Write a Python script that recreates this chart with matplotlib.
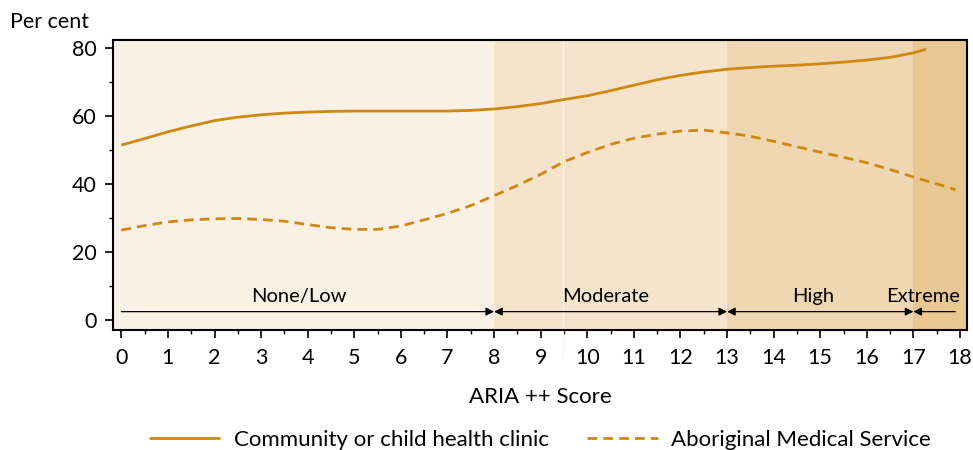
import numpy as np
import matplotlib
matplotlib.use('Agg')
import matplotlib.pyplot as plt
from matplotlib.ticker import MultipleLocator

plt.rcParams['font.family'] = ['Lato', 'DejaVu Sans']

# ARIA++ score and per cent of respondents using each service
clinic_x = [0, 0.5, 1, 1.5, 2, 2.5, 3, 3.5, 4, 4.5, 5, 5.5, 6, 6.5, 7, 7.5, 8, 8.5,
            9, 9.5, 10, 10.5, 11, 11.5, 12, 12.5, 13, 13.5, 14, 14.5, 15, 15.5, 16,
            16.5, 17, 17.27]
clinic_y = [51.4, 53.3, 55.3, 57.0, 58.6, 59.6, 60.3, 60.8, 61.1, 61.3, 61.4, 61.4,
            61.4, 61.4, 61.4, 61.6, 62.0, 62.7, 63.6, 64.8, 65.9, 67.4, 69.0, 70.6,
            71.9, 72.9, 73.7, 74.2, 74.6, 74.9, 75.3, 75.8, 76.4, 77.2, 78.5, 79.6]

ams_x = [0, 0.5, 1, 1.5, 2, 2.5, 3, 3.5, 4, 4.5, 5, 5.5, 6, 6.5, 7, 7.5, 8, 8.5,
         9, 9.5, 10, 10.5, 11, 11.5, 12, 12.5, 13, 13.5, 14, 14.5, 15, 15.5, 16,
         16.5, 17, 17.5, 17.9]
ams_y = [26.4, 27.7, 28.8, 29.4, 29.7, 29.8, 29.5, 29.0, 28.0, 27.1, 26.6, 26.6,
         27.6, 29.4, 31.3, 33.6, 36.5, 39.5, 42.8, 46.5, 49.2, 51.6, 53.4, 54.6,
         55.5, 55.8, 55.0, 54.0, 52.5, 50.9, 49.3, 47.8, 46.2, 44.2, 42.0, 40.0, 38.3]

# remoteness bands: name, start, end, label position
band_names = ['None/Low', 'Moderate', 'High', 'Extreme']
band_start = [0, 8, 13, 17]
band_end = [8, 13, 17, 17.9]
band_label_x = [3.8, 10.4, 14.85, 17.2]
band_colors = ['#FAF1E6', '#F5E4CB', '#EFD7B3', '#E8C793']

line_color = '#CF870E'

fig = plt.figure(figsize=(9.73, 4.5), dpi=100)
ax = fig.add_axes([0.1166, 0.2667, 0.9938 - 0.1166, 0.9111 - 0.2667])

xmin, xmax = -0.17, 18.15
ymin, ymax = -3.0, 82.3
ax.set_xlim(xmin, xmax)
ax.set_ylim(ymin, ymax)

# shaded background for each band
edges = [xmin, 8, 13, 17, xmax]
for i in range(4):
    ax.axvspan(edges[i], edges[i + 1], color=band_colors[i], lw=0, zorder=0)

ax.plot(clinic_x, clinic_y, color=line_color, lw=2.0, solid_capstyle='butt',
        label='Community or child health clinic', zorder=3)
ax.plot(ams_x, ams_y, color=line_color, lw=2.0, dashes=(3.5, 2.2),
        label='Aboriginal Medical Service', zorder=3)

# thin pale rule at 9.5
ax.plot([9.48, 9.48], [-11, ymax], color='#FBF3E8', lw=1.0, clip_on=False, zorder=2)

# arrows marking the band extents
arrow_y = 2.4
for i in range(4):
    s, e = band_start[i], band_end[i]
    if i == 0:
        style = '-|>'
    elif i == 3:
        style = '<|-'
    else:
        style = '<|-|>'
    ax.annotate('', xy=(e, arrow_y), xytext=(s, arrow_y),
                arrowprops=dict(arrowstyle=style, color='black', lw=0.9,
                                shrinkA=0, shrinkB=0,
                                mutation_scale=12), zorder=4)
    ax.text(band_label_x[i], 6.8, band_names[i], ha='center', va='center',
            fontsize=14.5, zorder=4)

ax.xaxis.set_major_locator(MultipleLocator(1))
ax.xaxis.set_minor_locator(MultipleLocator(0.5))
ax.yaxis.set_major_locator(MultipleLocator(20))
ax.yaxis.set_minor_locator(MultipleLocator(10))
ax.tick_params(which='major', direction='out', length=6, width=1.2, labelsize=15.5)
ax.tick_params(which='minor', direction='out', length=3, width=1.0)
ax.tick_params(axis='x', pad=7)
ax.tick_params(axis='y', pad=6)
for sp in ax.spines.values():
    sp.set_linewidth(1.5)

ax.set_xlabel('ARIA ++ Score', fontsize=16, labelpad=14)
fig.text(0.01, 0.951, 'Per cent', fontsize=15.5, ha='left', va='center')

fig.legend(loc='center', bbox_to_anchor=(0.555, 0.022), ncol=2, frameon=False,
           fontsize=16, handlelength=3.2, columnspacing=1.7, handletextpad=0.6)

fig.savefig('out.png', dpi=100)
